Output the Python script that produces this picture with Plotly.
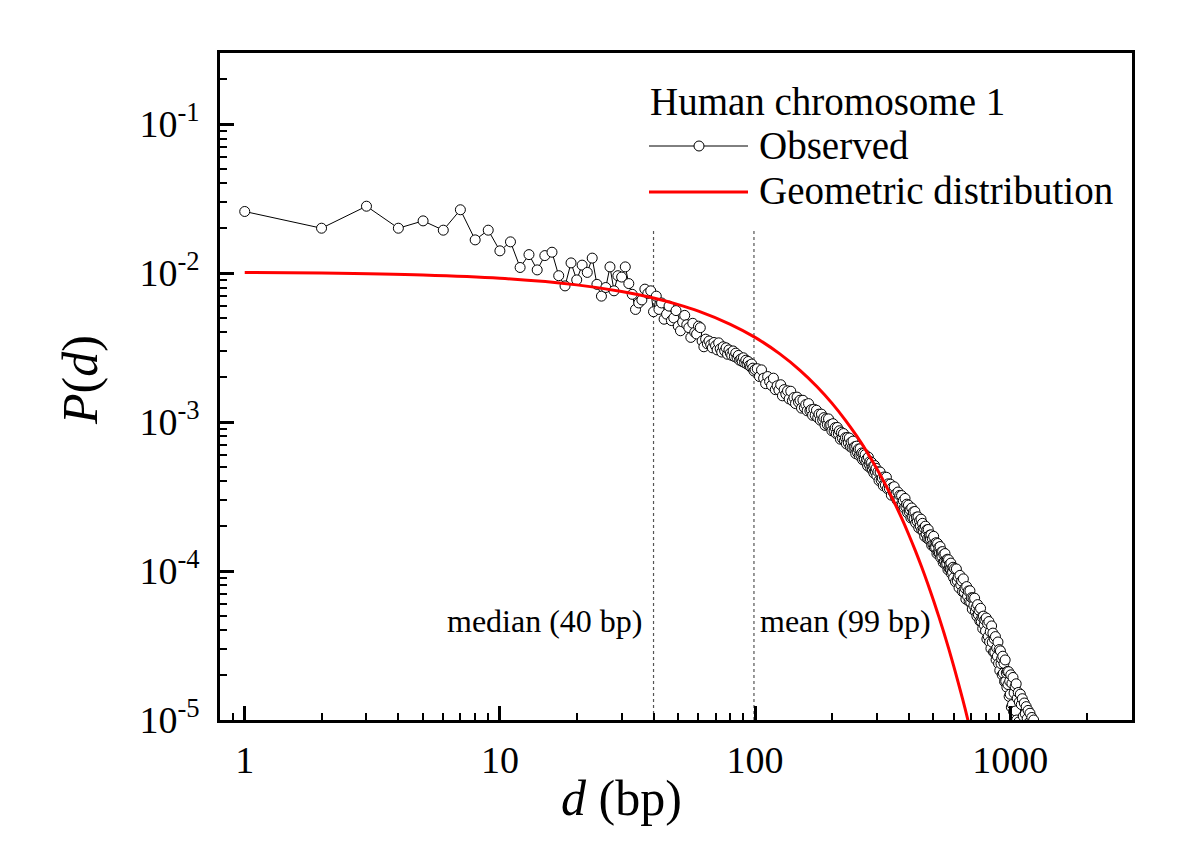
import math
import plotly.graph_objects as go

# ---------------- data ----------------
d_obs_1 = list(range(1, 101))
p_obs_1 = [0.0259, 0.0200, 0.0281, 0.0200, 0.0224, 0.0194, 0.0266, 0.0167, 0.0194, 0.0141,
           0.0162, 0.0109, 0.0133, 0.0105, 0.0131, 0.0138, 0.0096, 0.0082, 0.0117, 0.0090,
           0.0113, 0.0101, 0.0126, 0.0084, 0.0070, 0.0080, 0.0110, 0.0076, 0.0096, 0.0094,
           0.0110, 0.0085, 0.0072, 0.0057, 0.0063, 0.0066, 0.0078, 0.0073, 0.0076, 0.0055,
           0.0070, 0.0057, 0.0063, 0.0049, 0.0053, 0.0060, 0.0048, 0.0050, 0.0056, 0.0044,
           0.0041, 0.0047, 0.0052, 0.0045, 0.0043, 0.0037, 0.0046, 0.0040, 0.0039, 0.0044,
           0.0043, 0.0035, 0.0032, 0.0036, 0.00335, 0.0035, 0.0033, 0.00315, 0.00342, 0.00325,
           0.00305, 0.0034, 0.0031, 0.00295, 0.0032, 0.0030, 0.00315, 0.00285, 0.00305, 0.0029,
           0.0028, 0.0030, 0.00275, 0.0029, 0.0027, 0.0028, 0.0026, 0.00265, 0.00255, 0.0027,
           0.0025, 0.0026, 0.00245, 0.00255, 0.0024, 0.00235, 0.00245, 0.0023, 0.0022, 0.00225]

d_obs_2 = list(range(102, 301, 2))
p_obs_2 = [2.28e-3, 2.02e-3, 2.24e-3, 1.97e-3, 1.81e-3, 2.02e-3, 1.87e-3, 1.76e-3, 1.97e-3, 1.65e-3,
           1.75e-3, 1.64e-3, 1.78e-3, 1.50e-3, 1.65e-3, 1.54e-3, 1.62e-3, 1.43e-3, 1.61e-3, 1.39e-3,
           1.46e-3, 1.33e-3, 1.47e-3, 1.36e-3, 1.40e-3, 1.24e-3, 1.40e-3, 1.25e-3, 1.31e-3, 1.19e-3,
           1.33e-3, 1.19e-3, 1.21e-3, 1.11e-3, 1.22e-3, 1.11e-3, 1.20e-3, 1.07e-3, 1.13e-3, 1.03e-3,
           1.13e-3, 1.03e-3, 1.07e-3, 0.95e-3, 1.05e-3, 0.96e-3, 1.05e-3, 0.95e-3, 0.96e-3, 0.874e-3,
           0.975e-3, 0.873e-3, 0.917e-3, 0.836e-3, 0.920e-3, 0.833e-3, 0.874e-3, 0.767e-3, 0.851e-3, 0.776e-3,
           0.837e-3, 0.749e-3, 0.785e-3, 0.714e-3, 0.788e-3, 0.725e-3, 0.781e-3, 0.684e-3, 0.731e-3, 0.672e-3,
           0.745e-3, 0.673e-3, 0.683e-3, 0.614e-3, 0.689e-3, 0.623e-3, 0.659e-3, 0.595e-3, 0.661e-3, 0.598e-3,
           0.620e-3, 0.558e-3, 0.615e-3, 0.561e-3, 0.604e-3, 0.540e-3, 0.565e-3, 0.508e-3, 0.581e-3, 0.519e-3,
           0.543e-3, 0.488e-3, 0.536e-3, 0.483e-3, 0.505e-3, 0.455e-3, 0.511e-3, 0.463e-3, 0.489e-3, 0.437e-3]

d_obs_3 = list(range(303, 601, 3))
p_obs_3 = [4.64e-4, 4.05e-4, 4.62e-4, 4.07e-4, 4.21e-4, 3.74e-4, 4.28e-4, 3.77e-4, 4.26e-4, 3.57e-4,
           3.85e-4, 3.57e-4, 3.83e-4, 3.23e-4, 3.63e-4, 3.37e-4, 3.68e-4, 3.16e-4, 3.30e-4, 2.99e-4,
           3.39e-4, 3.03e-4, 3.22e-4, 2.78e-4, 3.21e-4, 2.80e-4, 2.97e-4, 2.66e-4, 3.07e-4, 2.69e-4,
           2.81e-4, 2.46e-4, 2.77e-4, 2.49e-4, 2.58e-4, 2.27e-4, 2.65e-4, 2.29e-4, 2.49e-4, 2.24e-4,
           2.51e-4, 2.10e-4, 2.30e-4, 2.15e-4, 2.31e-4, 1.95e-4, 2.17e-4, 2.00e-4, 2.23e-4, 1.88e-4,
           2.09e-4, 1.86e-4, 1.95e-4, 1.71e-4, 2.00e-4, 1.77e-4, 1.89e-4, 1.65e-4, 1.90e-4, 1.63e-4,
           1.74e-4, 1.64e-4, 1.75e-4, 1.49e-4, 1.65e-4, 1.51e-4, 1.71e-4, 1.44e-4, 1.53e-4, 1.44e-4,
           1.55e-4, 1.31e-4, 1.53e-4, 1.33e-4, 1.44e-4, 1.32e-4, 1.46e-4, 1.23e-4, 1.34e-4, 1.25e-4,
           1.35e-4, 1.14e-4, 1.29e-4, 1.16e-4, 1.31e-4, 1.11e-4, 1.18e-4, 1.12e-4, 1.20e-4, 1.02e-4,
           1.19e-4, 1.04e-4, 1.11e-4, 1.03e-4, 1.13e-4, 0.96e-4, 1.04e-4, 0.98e-4, 1.06e-4, 0.90e-4]

d_obs_4 = list(range(605, 1251, 5))
p_obs_4 = [10.37e-5, 8.47e-5, 10.33e-5, 8.58e-5, 9.12e-5, 7.72e-5, 9.35e-5, 8.08e-5, 8.57e-5, 7.28e-5,
           8.86e-5, 7.21e-5, 7.67e-5, 6.48e-5, 7.86e-5, 6.78e-5, 7.34e-5, 6.24e-5, 7.37e-5, 6.18e-5,
           6.62e-5, 5.55e-5, 6.61e-5, 5.87e-5, 6.57e-5, 5.36e-5, 5.70e-5, 4.98e-5, 5.95e-5, 5.09e-5,
           5.45e-5, 4.62e-5, 5.62e-5, 4.58e-5, 4.91e-5, 4.11e-5, 4.98e-5, 4.35e-5, 4.70e-5, 3.96e-5,
           4.84e-5, 3.50e-5, 4.44e-5, 3.64e-5, 4.58e-5, 3.34e-5, 3.91e-5, 3.02e-5, 4.28e-5, 3.33e-5,
           3.83e-5, 2.86e-5, 3.51e-5, 2.85e-5, 3.63e-5, 2.54e-5, 3.04e-5, 2.68e-5, 3.34e-5, 2.39e-5,
           2.97e-5, 2.15e-5, 2.91e-5, 2.39e-5, 2.58e-5, 2.01e-5, 2.68e-5, 2.06e-5, 2.40e-5, 1.81e-5,
           2.53e-5, 1.82e-5, 2.07e-5, 1.66e-5, 2.12e-5, 1.73e-5, 2.11e-5, 1.44e-5, 1.82e-5, 1.49e-5,
           2.01e-5, 1.22e-5, 1.76e-5, 1.27e-5, 1.93e-5, 1.14e-5, 1.52e-5, 1.01e-5, 1.68e-5, 1.15e-5,
           1.75e-5, 1.00e-5, 1.40e-5, 0.88e-5, 1.53e-5, 0.97e-5, 1.32e-5, 0.83e-5, 1.49e-5, 0.84e-5,
           1.27e-5, 0.73e-5, 1.39e-5, 0.78e-5, 1.06e-5, 0.64e-5, 1.30e-5, 0.68e-5, 1.10e-5, 0.62e-5,
           1.23e-5, 0.58e-5, 1.02e-5, 0.60e-5, 1.16e-5, 0.51e-5, 0.96e-5, 0.51e-5, 1.11e-5, 0.47e-5,
           0.93e-5, 0.43e-5, 1.04e-5, 0.45e-5, 0.89e-5, 0.40e-5, 1.00e-5, 0.40e-5, 0.86e-5, 0.37e-5]

d_geo = [1, 2, 5, 10, 20, 30, 40, 50, 60, 80, 100, 125, 150, 175, 200, 225, 250, 275,
         300, 325, 350, 375, 400, 425, 450, 475, 500, 525, 550, 575, 600, 625, 650, 675, 700]
p_geo = [1.010e-2, 1.000e-2, 9.70e-3, 9.22e-3, 8.33e-3, 7.52e-3, 6.80e-3, 6.14e-3, 5.55e-3,
         4.53e-3, 3.70e-3, 2.869e-3, 2.226e-3, 1.727e-3, 1.340e-3, 1.039e-3, 8.065e-4, 6.26e-4,
         4.855e-4, 3.77e-4, 2.922e-4, 2.27e-4, 1.759e-4, 1.365e-4, 1.059e-4, 8.21e-5, 6.375e-5,
         4.94e-5, 3.837e-5, 2.98e-5, 2.310e-5, 1.79e-5, 1.391e-5, 1.079e-5, 8.37e-6]

median_d = 40
mean_d = 99
guide_y = [1e-5, 2e-2]

x_tick_vals = [1, 10, 100, 1000]
x_tick_text = ["1", "10", "100", "1000"]
x_minor_vals = [0.9, 2, 3, 4, 5, 6, 7, 8, 9, 20, 30, 40, 50, 60, 70, 80, 90,
                200, 300, 400, 500, 600, 700, 800, 900, 2000]
y_tick_vals = [1e-5, 1e-4, 1e-3, 1e-2, 1e-1]
y_tick_text = ["10<sup>-5</sup>", "10<sup>-4</sup>", "10<sup>-3</sup>", "10<sup>-2</sup>", "10<sup>-1</sup>"]
y_minor_vals = [m * 10.0 ** e for e in (-5, -4, -3, -2, -1) for m in range(2, 10)]

# ---------------- figure ----------------
FONT = "Liberation Serif, Times New Roman, serif"
L, R, T, B = 212, 76, 45, 146
W, H = 1200, 858
PW, PH = W - L - R, H - T - B


def px(x):
    return (x - L) / PW


def py(y):
    return (H - B - y) / PH


d_obs = d_obs_1 + d_obs_2 + d_obs_3 + d_obs_4
p_obs = p_obs_1 + p_obs_2 + p_obs_3 + p_obs_4

fig = go.Figure()
for xv in (median_d, mean_d):
    fig.add_trace(go.Scatter(x=[xv, xv], y=guide_y, mode="lines",
                             line=dict(color="#555555", width=1.2, dash="dot"),
                             hoverinfo="skip", showlegend=False))

fig.add_trace(go.Scatter(x=d_obs, y=p_obs, mode="lines+markers", name="Observed",
                         line=dict(color="black", width=1),
                         marker=dict(symbol="circle", size=10, color="white",
                                     line=dict(color="black", width=1)),
                         showlegend=False))

fig.add_trace(go.Scatter(x=d_geo, y=p_geo, mode="lines", name="Geometric distribution",
                         line=dict(color="#ff0000", width=3, shape="spline"),
                         showlegend=False))

axis_common = dict(showline=True, linecolor="black", linewidth=2.5, mirror=True,
                   ticks="inside", ticklen=14, tickwidth=2.5, tickcolor="black",
                   showgrid=False, zeroline=False, tickmode="array",
                   tickfont=dict(family=FONT, size=38, color="black"))

fig.update_xaxes(type="log", range=[math.log10(0.8), math.log10(3000)],
                 tickvals=x_tick_vals, ticktext=x_tick_text, ticklabelstandoff=5,
                 minor=dict(ticks="inside", ticklen=7, tickwidth=2, tickcolor="black",
                            tickmode="array", tickvals=x_minor_vals, showgrid=False),
                 **axis_common)
fig.update_yaxes(type="log", range=[-5, math.log10(0.3)],
                 tickvals=y_tick_vals, ticktext=y_tick_text, ticklabelstandoff=10,
                 minor=dict(ticks="inside", ticklen=7, tickwidth=2, tickcolor="black",
                            tickmode="array", tickvals=y_minor_vals, showgrid=False),
                 **axis_common)

LEG_FONT = dict(family=FONT, size=39)
annotations = [
    dict(text="<i>d</i> (bp)", x=px(613), y=py(790), xref="paper", yref="paper",
         xanchor="center", yanchor="middle", showarrow=False, font=dict(family=FONT, size=50)),
    dict(text="<i>P</i>(<i>d</i>)", x=px(72), y=py(372), xref="paper", yref="paper",
         xanchor="center", yanchor="middle", textangle=-90, showarrow=False,
         font=dict(family=FONT, size=50)),
    dict(text="median (40 bp)", x=px(637), y=py(613), xref="paper", yref="paper",
         xanchor="right", yanchor="middle", showarrow=False, font=dict(family=FONT, size=32)),
    dict(text="mean (99 bp)", x=px(750), y=py(613), xref="paper", yref="paper",
         xanchor="left", yanchor="middle", showarrow=False, font=dict(family=FONT, size=32)),
    dict(text="Human chromosome 1", x=px(640), y=py(93), xref="paper", yref="paper",
         xanchor="left", yanchor="middle", showarrow=False, font=LEG_FONT),
    dict(text="Observed", x=px(749), y=py(137), xref="paper", yref="paper",
         xanchor="left", yanchor="middle", showarrow=False, font=LEG_FONT),
    dict(text="Geometric distribution", x=px(749), y=py(183), xref="paper", yref="paper",
         xanchor="left", yanchor="middle", showarrow=False, font=LEG_FONT),
]

shapes = [
    dict(type="line", xref="paper", yref="paper", x0=px(641), x1=px(740), y0=py(138), y1=py(138),
         line=dict(color="black", width=1)),
    dict(type="circle", xref="paper", yref="paper", xsizemode="pixel", ysizemode="pixel",
         xanchor=px(691), yanchor=py(138), x0=-5, x1=5, y0=-5, y1=5,
         fillcolor="white", line=dict(color="black", width=1)),
    dict(type="line", xref="paper", yref="paper", x0=px(641), x1=px(740), y0=py(184), y1=py(184),
         line=dict(color="#ff0000", width=3)),
]

fig.update_layout(width=W, height=H, autosize=False,
                  margin=dict(l=L, r=R, t=T, b=B),
                  paper_bgcolor="white", plot_bgcolor="white",
                  showlegend=False, font=dict(family=FONT, color="black"),
                  annotations=annotations, shapes=shapes)

fig.write_html("out.html")
